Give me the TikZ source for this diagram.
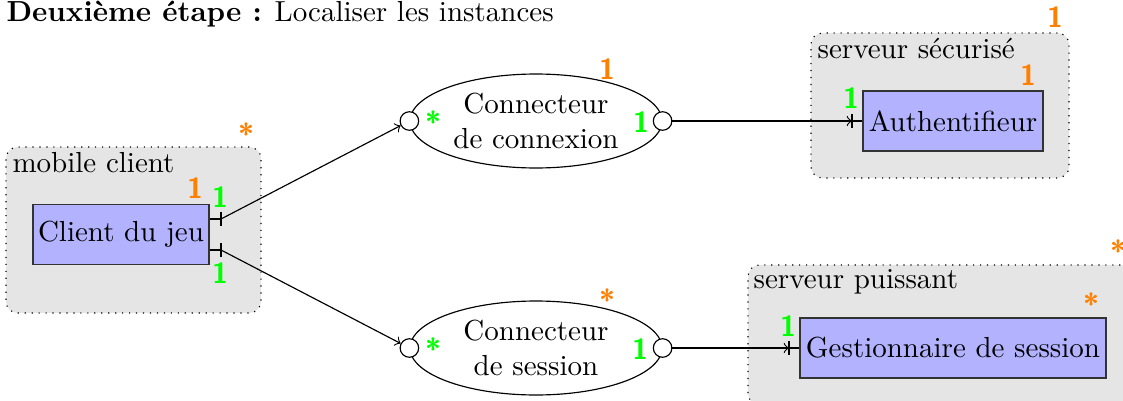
\documentclass[tikz,border=0pt]{standalone}
\usetikzlibrary{shapes.geometric}
\begin{document}
\begin{tikzpicture}[x=0.3448pt,y=-0.3448pt,
  container/.style={draw, dotted, fill=gray!20, rounded corners=4pt, inner sep=0},
  comp/.style={draw=black!80, fill=blue!30, inner sep=0, minimum height=20.7pt},
  conn/.style={draw, ellipse, inner sep=0, minimum width=86.9pt, minimum height=32.4pt, align=center},
  port/.style={draw, circle, fill=white, inner sep=0, minimum size=6.4pt},
  omul/.style={text=orange, font=\sffamily\bfseries, inner sep=0},
  gmul/.style={text=green, font=\sffamily\bfseries, inner sep=0},
  lbl/.style={anchor=base west, inner sep=0},
]
\useasboundingbox (0,0) rectangle (1123,401);
\clip (0,0) rectangle (1123,401);

% title
\node[lbl] (title) at (6,21) {\textbf{Deuxième étape :} Localiser les instances};

% containers
\node[container, minimum width=87.9pt, minimum height=57.2pt] (mc) at (133.5,230) {};
\node[lbl] (mcl) at (12,172) {mobile client};
\node[omul] (mcm) at (246,134) {*};

\node[container, minimum width=89.0pt, minimum height=50.0pt] (ss) at (940,105.5) {};
\node[lbl] (ssl) at (817,58) {serveur sécurisé};
\node[omul] (ssm) at (1055,17) {1};

\node[container, minimum width=132.4pt, minimum height=48.3pt] (sp) at (940,335) {};
\node[lbl] (spl) at (753,288) {serveur puissant};
\node[omul] (spm) at (1118,251) {*};

% components
\node[comp, minimum width=60.7pt] (client) at (121,234.5) {Client du jeu};
\node[omul] (clm) at (195,188) {1};
\node[gmul] (clg1) at (220,197) {1};
\node[gmul] (clg2) at (220,273) {1};

\node[comp, minimum width=62.1pt] (auth) at (953,121) {Authentifieur};
\node[omul] (aum) at (1028,75) {1};
\node[gmul] (aug) at (851,98) {1};

\node[comp, minimum width=105.5pt] (gest) at (953,348) {Gestionnaire de session};
\node[omul] (gem) at (1091,304) {*};
\node[gmul] (geg) at (788,326) {1};

% connectors
\node[conn] (cc) at (536,121) {Connecteur\\de connexion};
\node[port] (ccin) at (cc.west) {};
\node[port] (ccout) at (cc.east) {};
\node[omul] (ccm) at (607,69) {1};
\node[gmul] (ccg1) at (433,122) {*};
\node[gmul] (ccg2) at (641,122) {1};

\node[conn] (cs) at (536,348) {Connecteur\\de session};
\node[port] (csin) at (cs.west) {};
\node[port] (csout) at (cs.east) {};
\node[omul] (csm) at (607,300) {*};
\node[gmul] (csg1) at (433,349) {*};
\node[gmul] (csg2) at (640,349) {1};

% links
\coordinate (t1) at (221,219);
\coordinate (t2) at (221,250);
\coordinate (ta) at (852,121);
\coordinate (tg) at (789,348);

\draw (client.east |- t1) -- (t1);
\draw ([yshift=2.25pt]t1) -- ([yshift=-2.25pt]t1);
\draw[->] (t1) -- (ccin);

\draw (client.east |- t2) -- (t2);
\draw ([yshift=2.25pt]t2) -- ([yshift=-2.25pt]t2);
\draw[->] (t2) -- (csin);

\draw[->] (ccout) -- (ta);
\draw ([yshift=2.4pt]ta) -- ([yshift=-2.4pt]ta);
\draw (ta) -- (auth.west);

\draw[->] (csout) -- (tg);
\draw ([yshift=2.4pt]tg) -- ([yshift=-2.4pt]tg);
\draw (tg) -- (gest.west);
\end{tikzpicture}
\end{document}
